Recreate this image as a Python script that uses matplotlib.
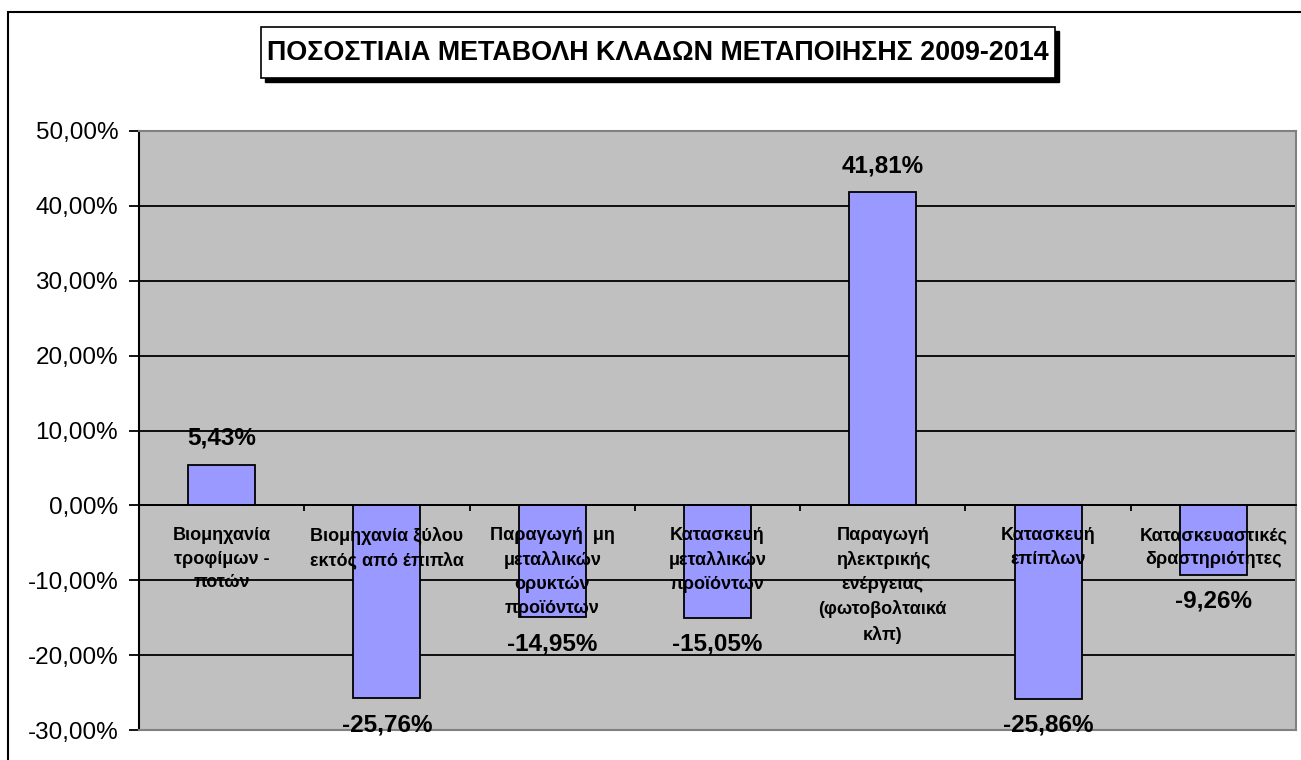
import matplotlib
matplotlib.use("Agg")
import matplotlib.pyplot as plt
from matplotlib.patches import Rectangle
from matplotlib.ticker import FixedLocator, FuncFormatter
import numpy as np

plt.rcParams['font.family'] = ['Liberation Sans', 'DejaVu Sans']

title = "ΠΟΣΟΣΤΙΑΙΑ ΜΕΤΑΒΟΛΗ ΚΛΑΔΩΝ ΜΕΤΑΠΟΙΗΣΗΣ 2009-2014"
categories = [
    "Βιομηχανία\nτροφίμων -\nποτών",
    "Βιομηχανία ξύλου\nεκτός από έπιπλα",
    "Παραγωγή  μη\nμεταλλικών\nορυκτών\nπροϊόντων",
    "Κατασκευή\nμεταλλικών\nπροϊόντων",
    "Παραγωγή\nηλεκτρικής\nενέργειας\n(φωτοβολταικά\nκλπ)",
    "Κατασκευή\nεπίπλων",
    "Κατασκευαστικές\nδραστηριότητες",
]
values = [5.43, -25.76, -14.95, -15.05, 41.81, -25.86, -9.26]
yticks = [-30, -20, -10, 0, 10, 20, 30, 40, 50]

W, H, DPI = 1301, 760, 100
fig = plt.figure(figsize=(W / DPI, H / DPI), dpi=DPI)
fig.patch.set_facecolor("white")

# outer chart frame
fig.add_artist(Rectangle((8 / W, -0.2), 1.2, 1.2 - 12 / H, transform=fig.transFigure,
                         fill=False, edgecolor="black", linewidth=1.5, clip_on=False))

# title box with shadow
bx0, bx1, by0, by1 = 261, 1055, 27, 78
sh = 4
fig.add_artist(Rectangle(((bx0 + sh) / W, 1 - (by1 + sh) / H), (bx1 - bx0) / W, (by1 - by0) / H,
                         transform=fig.transFigure, facecolor="black", edgecolor="black", linewidth=1))
fig.add_artist(Rectangle((bx0 / W, 1 - by1 / H), (bx1 - bx0) / W, (by1 - by0) / H,
                         transform=fig.transFigure, facecolor="white", edgecolor="black", linewidth=1.2))
fig.text((bx0 + bx1) / 2 / W, 1 - (by0 + by1) / 2 / H, title, ha="center", va="center",
         fontsize=19.4, fontweight="bold")

left, right, top, bottom = 139, 1296, 131, 730
ax = fig.add_axes([left / W, 1 - bottom / H, (right - left) / W, (bottom - top) / H])
ax.set_facecolor("#C0C0C0")

x = np.arange(len(values))
ax.bar(x, values, width=0.405, color="#9999FF", edgecolor="black", linewidth=1.3, zorder=2)

ax.set_xlim(-0.5, len(values) - 0.5)
ax.set_ylim(min(yticks), max(yticks))
ax.set_axisbelow(True)
ax.yaxis.set_major_locator(FixedLocator(yticks))
ax.yaxis.set_major_formatter(FuncFormatter(lambda v, p: f"{v:.2f}%".replace(".", ",")))
ax.yaxis.grid(True, color="black", linewidth=1.3)
ax.tick_params(axis="y", direction="out", length=7, width=1.3, pad=8, labelsize=17.5)

# x axis at zero with boundary ticks
ax.spines["bottom"].set_position(("data", 0))
ax.spines["bottom"].set_linewidth(1.3)
ax.spines["bottom"].set_zorder(3)
ax.xaxis.set_major_locator(FixedLocator(x))
ax.xaxis.set_minor_locator(FixedLocator(x[:-1] + 0.5))
ax.tick_params(axis="x", which="major", length=0, labelbottom=False)
ax.tick_params(axis="x", which="minor", direction="out", length=4, width=1.3)
ax.spines["left"].set_linewidth(1.5)
for s in ("top", "right"):
    ax.spines[s].set_color("#808080")
    ax.spines[s].set_linewidth(1.5)
ax.plot([0, 1], [0, 0], transform=ax.transAxes, color="#808080", linewidth=1.5,
        clip_on=False, zorder=3)
ax.yaxis.get_major_ticks()[0].gridline.set_visible(False)
ax.yaxis.get_major_ticks()[-1].gridline.set_visible(False)

# category labels drawn over the bars
for xi, lab in zip(x, categories):
    ax.annotate(lab, (xi, 0), xytext=(0, -15.5), textcoords="offset points",
                ha="center", va="top", fontsize=13, fontweight="bold",
                linespacing=1.52, zorder=5)

# value labels
for xi, v in zip(x, values):
    off = 19 if v >= 0 else -19
    ax.annotate(f"{v:.2f}%".replace(".", ","), (xi, v), xytext=(0, off),
                textcoords="offset points", ha="center", va="center",
                fontsize=17.5, fontweight="bold", zorder=5, annotation_clip=False)

fig.savefig("out.png", dpi=DPI)
